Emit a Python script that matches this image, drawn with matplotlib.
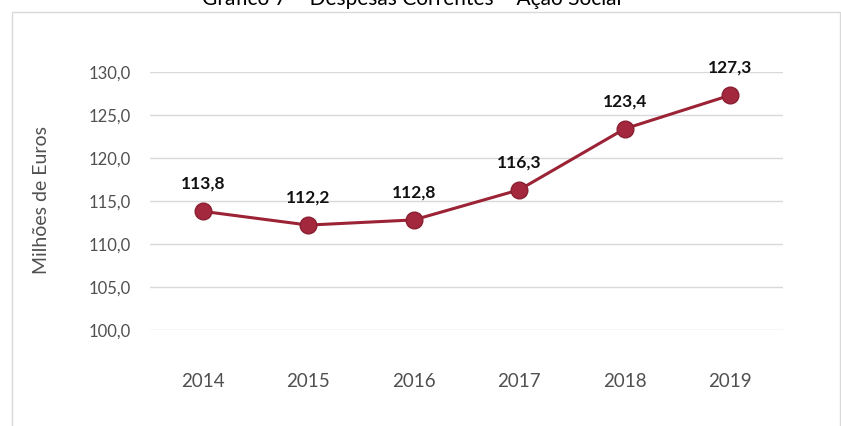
import matplotlib
matplotlib.use("Agg")
import matplotlib.pyplot as plt
from matplotlib.patches import Rectangle

plt.rcParams['font.family'] = ['Lato', 'DejaVu Sans']

anos = ['2014', '2015', '2016', '2017', '2018', '2019']
despesas = [113.8, 112.2, 112.8, 116.3, 123.4, 127.3]
y_ticks = [100, 105, 110, 115, 120, 125, 130]

W, H = 841, 426
fig = plt.figure(figsize=(W / 100, H / 100), dpi=100)
fig.patch.set_facecolor('white')

# outer chart frame
fig.patches.append(Rectangle((12 / W, -0.1), (840 - 12) / W, (H - 12) / H + 0.1,
                             transform=fig.transFigure, fill=False,
                             edgecolor='#D9D9D9', linewidth=1.0))

fig.text(412 / W, (H - 5) / H, 'Gráfico 7 – Despesas Correntes – Ação Social',
         ha='center', va='baseline', fontsize=15, color='#000000')

ax = fig.add_axes([150 / W, (H - 330) / H, (783 - 150) / W, (330 - 72) / H])
x = list(range(len(anos)))
ax.plot(x, despesas, color='#9B2335', linewidth=2.2, marker='o',
        markersize=12, markerfacecolor='#A3283D', markeredgecolor='#8A1F32',
        markeredgewidth=1.0, zorder=3)

for xi, v in zip(x, despesas):
    ax.annotate(f'{v:.1f}'.replace('.', ','), (xi, v), xytext=(0, 14),
                textcoords='offset points', ha='center', va='bottom',
                fontsize=12.5, fontweight='bold', color='#111111')

ax.set_xlim(-0.5, len(anos) - 0.5)
ax.set_ylim(100, 130)
ax.set_yticks(y_ticks)
ax.set_yticklabels([f'{t:.1f}'.replace('.', ',') for t in y_ticks])
ax.set_xticks(x)
ax.set_xticklabels(anos)
ax.grid(axis='y', color='#D9D9D9', linewidth=1.0)
ax.set_axisbelow(True)
for s in ax.spines.values():
    s.set_visible(False)
ax.tick_params(axis='y', length=0, pad=14, labelsize=12, labelcolor='#505050')
ax.tick_params(axis='x', length=0, pad=31, labelsize=13.5, labelcolor='#505050')

fig.text(42 / W, (H - 200) / H, 'Milhões de Euros', rotation=90,
         ha='center', va='center', fontsize=14, color='#505050')

fig.savefig('out.png', dpi=100)
